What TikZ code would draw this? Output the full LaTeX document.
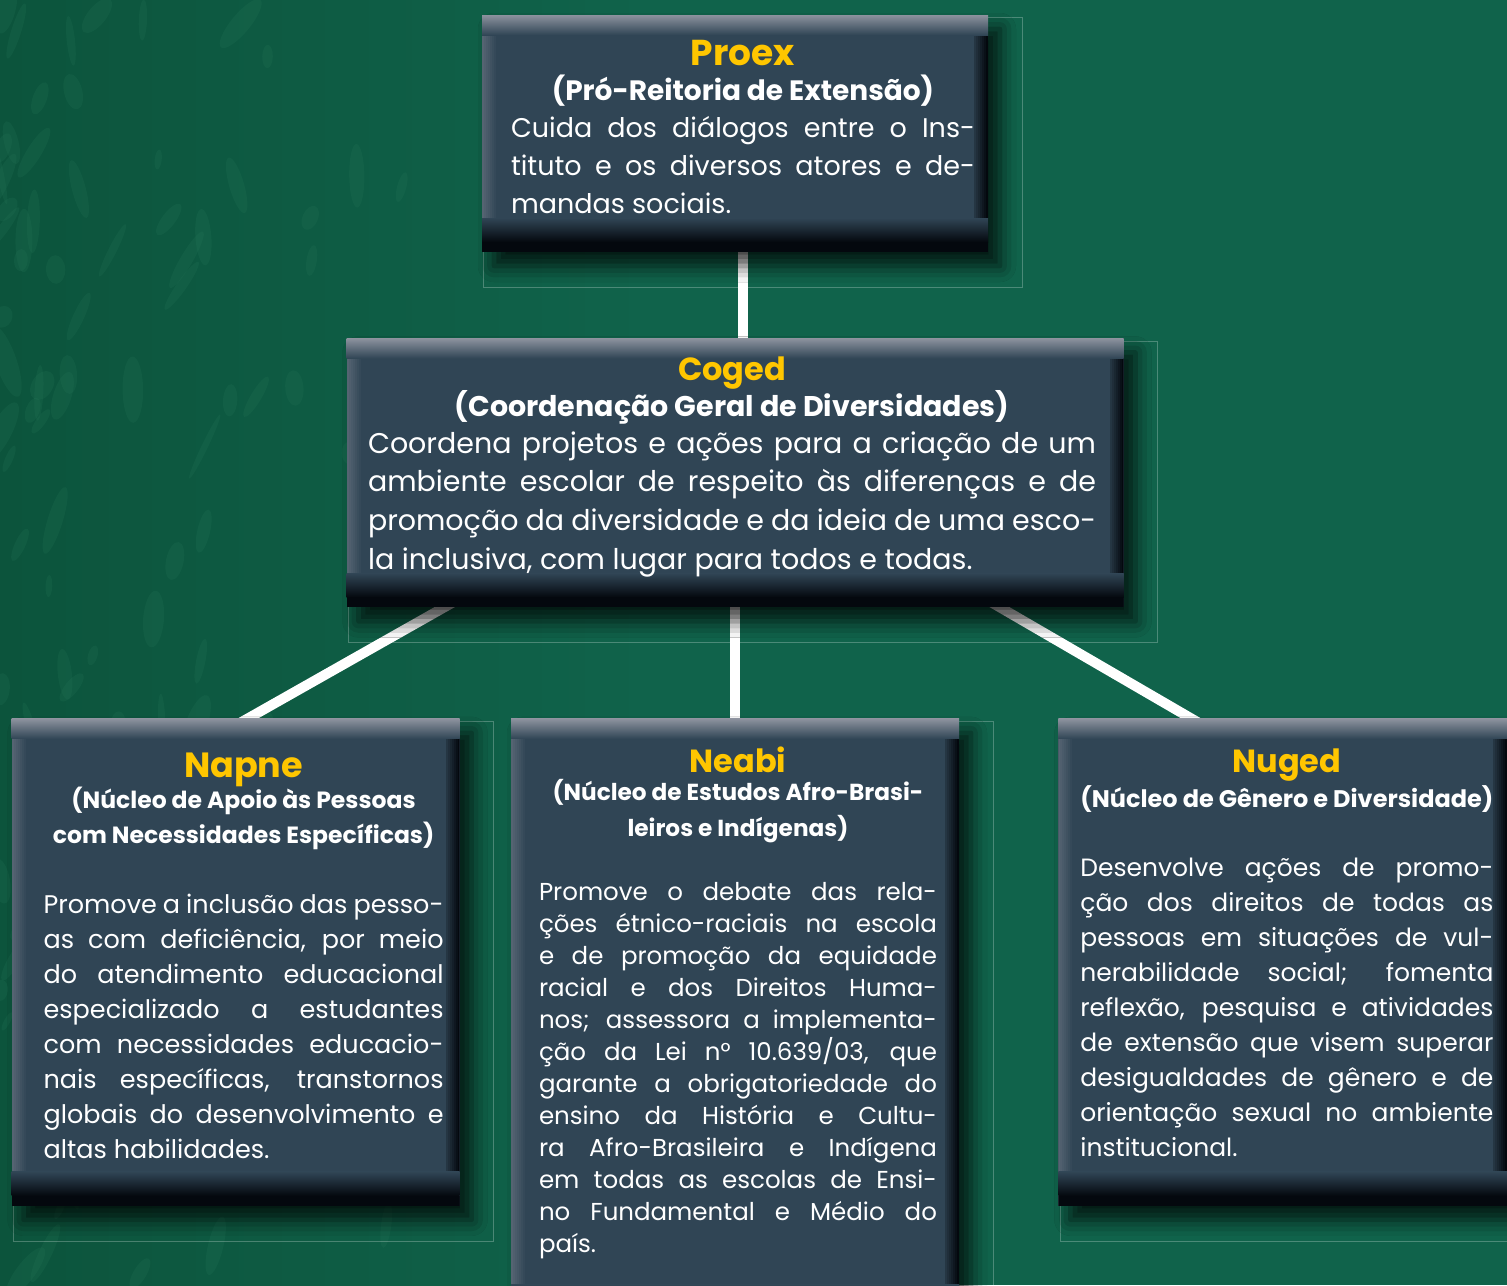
\documentclass[tikz,border=0pt]{standalone}
\usepackage{fontspec}
\setmainfont{Poppins}
\usepackage{tikz}
\usetikzlibrary{positioning,shadows.blur}
\definecolor{bggreen}{RGB}{16,99,75}
\definecolor{bgdark}{RGB}{12,84,60}
\definecolor{bglight}{RGB}{40,120,90}
\definecolor{boxfill}{RGB}{48,69,85}
\definecolor{bevelhi}{RGB}{140,146,158}
\definecolor{bevelsh}{RGB}{4,8,14}
\definecolor{headyellow}{RGB}{255,198,0}

\pgfdeclarelayer{bg}
\pgfdeclarelayer{wires}
\pgfsetlayers{bg,wires,main}

\setlength{\parindent}{0pt}
\setlength{\parskip}{0pt}

% yellow name and bold full name of a unit
\newcommand{\headline}[2]{{\centering\color{headyellow}\bfseries\fontsize{#1}{#1}\selectfont #2\par}}
\newcommand{\subline}[3]{{\centering\bfseries\fontsize{#1}{#2}\selectfont #3\par}}

\begin{document}
\begin{tikzpicture}[x=1pt,y=-1pt,
  panel/.style={fill=boxfill,inner sep=0pt,
    blur shadow={shadow xshift=12pt,shadow yshift=-14pt,shadow blur radius=16pt,shadow opacity=75},
    path picture={
      % side bevels in thin stripes
      \foreach \k in {0,2,...,12}{
        \pgfmathsetmacro\lt{40*(1-\k/14)}
        \pgfmathsetmacro\dk{100*(1-\k/16)}
        \fill[bevelhi!\lt!boxfill] ([xshift=\k pt]path picture bounding box.north west) rectangle ([xshift=\k pt+2pt]path picture bounding box.south west);
        \fill[bevelsh!\dk!boxfill] ([xshift=-\k pt]path picture bounding box.north east) rectangle ([xshift=-\k pt-2pt]path picture bounding box.south east);
      }
      \fill[top color=bevelhi,bottom color=boxfill] (path picture bounding box.north west) rectangle ([yshift=-20pt]path picture bounding box.north east);
      \fill[top color=boxfill,bottom color=bevelsh] ([yshift=34pt]path picture bounding box.south west) rectangle ([yshift=10pt]path picture bounding box.south east);
      \fill[bevelsh] ([yshift=10pt]path picture bounding box.south west) rectangle (path picture bounding box.south east);
    }},
  blurb/.style={inner sep=0pt,align=justify,text=white},
  wire/.style={white,line width=10pt},
  ghost/.style={draw=white,opacity=0.25,line width=0.8pt}]

\useasboundingbox (0,0) rectangle (1507,1285);

% boxes
\node[panel,minimum width=506pt,minimum height=237pt] (proex) at (735,133.5) {};
\node[panel,minimum width=777pt,minimum height=269pt,below=86pt of proex] (coged) {};
\node[panel,minimum width=448pt,minimum height=600pt,below=111pt of coged] (neabi) {};
\node[panel,minimum width=448pt,minimum height=487pt,anchor=north east] (napne) at ([xshift=-51pt]neabi.north west) {};
\node[panel,minimum width=449pt,minimum height=487pt,anchor=north west] (nuged) at ([xshift=99pt]neabi.north east) {};

% texts
\node[blurb,text width=464pt,below=25pt of proex.north,xshift=8pt] (proex-txt) {
  \headline{36}{Proex}
  \subline{28}{35}{(Pró-Reitoria de Extensão)}
  {\fontsize{27}{38}\selectfont\vspace{-1pt}Cuida dos diálogos entre o Ins-\linebreak tituto e os diversos atores e de-\linebreak mandas sociais.\par}
};
\node[blurb,text width=728pt,below=18pt of coged.north,xshift=-3pt] (coged-txt) {
  \headline{32}{Coged}
  \subline{28.5}{36}{(Coordenação Geral de Diversidades)}
  {\fontsize{28.5}{38.7}\selectfont\vspace{-1.7pt}Coordena projetos e ações para a criação de um\linebreak ambiente escolar de respeito às diferenças e de\linebreak promoção da diversidade e da ideia de uma esco-\linebreak la inclusiva, com lugar para todos e todas.\par}
};
\node[blurb,text width=400pt,below=34pt of napne.north,xshift=8pt] (napne-txt) {
  \headline{35}{Napne}
  \subline{23.5}{31}{(Núcleo de Apoio às Pessoas\\[4pt]com Necessidades Específicas)}
  {\fontsize{25.5}{35}\selectfont\vspace{35pt}Promove a inclusão das pesso-\linebreak as com deficiência, por meio\linebreak do atendimento educacional\linebreak especializado a estudantes\linebreak com necessidades educacio-\linebreak nais específicas, transtornos\linebreak globais do desenvolvimento e\linebreak altas habilidades.\par}
};
\node[blurb,text width=398pt,below=28pt of neabi.north,xshift=3pt] (neabi-txt) {
  \headline{32}{Neabi}
  \subline{23.2}{28}{(Núcleo de Estudos Afro-Brasi-\\[8pt]leiros e Indígenas)}
  {\fontsize{24.5}{32}\selectfont\vspace{32pt}Promove o debate das rela-\linebreak ções étnico-raciais na escola\linebreak e de promoção da equidade\linebreak racial e dos Direitos Huma-\linebreak nos; assessora a implementa-\linebreak ção da Lei n° 10.639/03, que\linebreak garante a obrigatoriedade do\linebreak ensino da História e Cultu-\linebreak ra Afro-Brasileira e Indígena\linebreak em todas as escolas de Ensi-\linebreak no Fundamental e Médio do\linebreak país.\par}
};
\node[blurb,text width=413pt,below=30pt of nuged.north,xshift=4pt] (nuged-txt) {
  \headline{32}{Nuged}
  \subline{24}{35}{(Núcleo de Gênero e Diversidade)}
  {\fontsize{25}{35}\selectfont\vspace{34pt}Desenvolve ações de promo-\linebreak ção dos direitos de todas as\linebreak pessoas em situações de vul-\linebreak nerabilidade social; fomenta\linebreak reflexão, pesquisa e atividades\linebreak de extensão que visem superar\linebreak desigualdades de gênero e de\linebreak orientação sexual no ambiente\linebreak institucional.\par}
};

% connectors and frames behind the boxes
\begin{pgfonlayer}{wires}
\draw[wire] ([xshift=8pt,yshift=35pt]proex.south) -- ([xshift=8pt,yshift=-17pt]coged.north);
\draw[wire] ([yshift=10pt]coged.south) -- ([yshift=-24pt]neabi.north);
\draw[wire] ([xshift=131pt,yshift=19pt]coged.south west) -- ([xshift=-18pt,yshift=-17pt]napne.north);
\draw[wire] ([xshift=-156pt,yshift=19pt]coged.south east) -- ([xshift=-57pt,yshift=-20pt]nuged.north);
\foreach \b in {proex,coged,napne,neabi,nuged}
  \draw[ghost] ([xshift=2pt,yshift=-3pt]\b.north west) rectangle ([xshift=34pt,yshift=-35pt]\b.south east);
\end{pgfonlayer}

% mottled green ground, mostly on the left
\begin{pgfonlayer}{bg}
\fill[bggreen] (0,0) rectangle (1507,1285);
\shade[left color=bgdark,right color=bggreen] (0,0) rectangle (650,1285);
\pgfmathsetseed{11}
\foreach \i in {1,...,110}{
  \pgfmathsetmacro\px{rnd*rnd*560}
  \pgfmathsetmacro\py{rnd*1285}
  \pgfmathsetmacro\pa{50+rnd*60}
  \fill[bglight,opacity=0.2,rotate around={\pa:(\px,\py)}]
    (\px,\py) ellipse ({10+rnd*28} and {3+rnd*8});
}
\end{pgfonlayer}
\end{tikzpicture}
\end{document}
